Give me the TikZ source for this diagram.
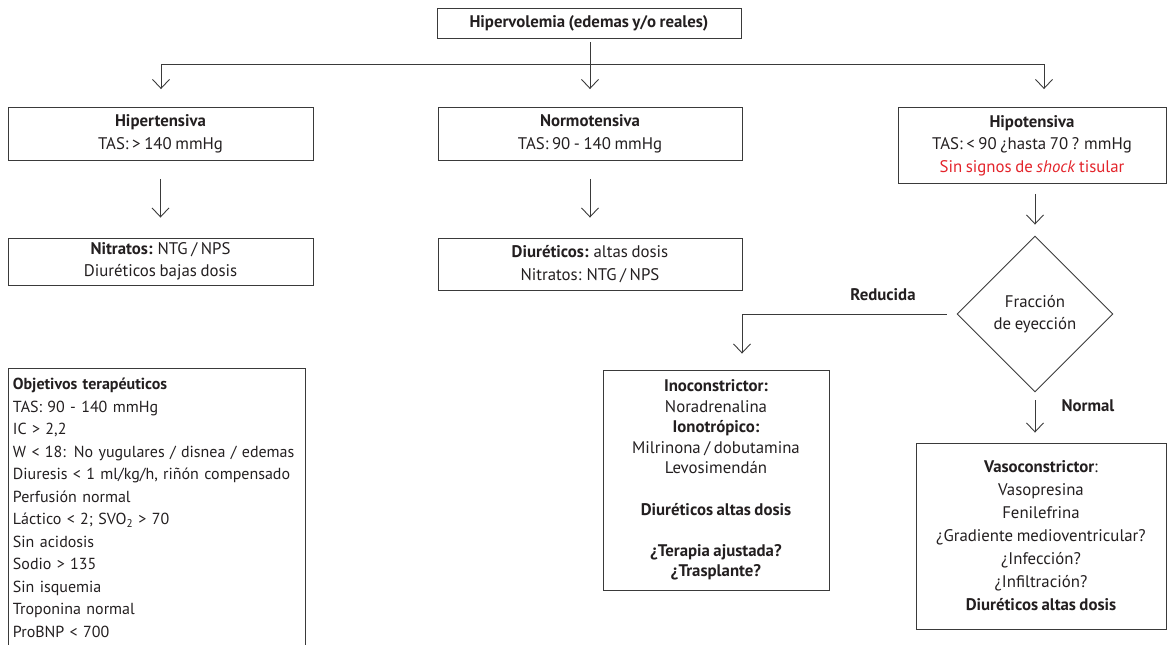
\documentclass[tikz,border=0pt]{standalone}
\usepackage{fontspec}
\setmainfont{PT Sans}[WordSpace=0.8]
\usetikzlibrary{shapes.geometric,arrows.meta}
\definecolor{ink}{HTML}{231F20}
\definecolor{linec}{HTML}{3A3A3A}
\definecolor{redt}{HTML}{E3242B}
\begin{document}
\begin{tikzpicture}[x=1pt,y=-1pt,
  every node/.style={font=\fontsize{16.8}{22.5}\selectfont, text=ink},
  box/.style={draw=linec, line width=0.9pt, align=center, inner sep=0pt},
  arr/.style={draw=linec, line width=0.9pt, -{Straight Barb[length=9pt,width=17pt,line width=0.9pt]}},
  ln/.style={draw=linec, line width=0.9pt},
  lbl/.style={font=\fontsize{16.8}{22.5}\selectfont\bfseries}]
\useasboundingbox (0,0) rectangle (1168,645);
\clip (0,0) rectangle (1168,645);

\node[box, minimum width=304, minimum height=30] (top) at (589,23) {\textbf{Hipervolemia (edemas y/o reales)}};
\node[box, minimum width=305, minimum height=53] (hyper) at (160.5,134) {\textbf{Hipertensiva}\\TAS: > 140 mmHg};
\node[box, minimum width=304, minimum height=53] (normo) at (590,134) {\textbf{Normotensiva}\\TAS: 90 - 140 mmHg};
\node[box, minimum width=268, minimum height=76] (hipo) at (1032,145.5) {\textbf{Hipotensiva}\\TAS: < 90 ¿hasta 70 ? mmHg\\\textcolor{redt}{Sin signos de \textit{shock} tisular}};
\node[box, minimum width=305, minimum height=47] (nitr) at (160.5,261.5) {\textbf{Nitratos:} NTG / NPS\\Diuréticos bajas dosis};
\node[box, minimum width=304, minimum height=52] (diur) at (590,264) {\textbf{Diuréticos:} altas dosis\\Nitratos: NTG / NPS};
\node[draw=linec, line width=0.9pt, shape=diamond, aspect=1, minimum width=156, minimum height=156, inner sep=0pt, align=center] (fe) at (1035,314) {Fracción\\de eyección};
\node[box, minimum width=226, minimum height=220, font=\fontsize{16.8}{20.6}\selectfont] (ino) at (716,480) {\textbf{Inoconstrictor:}\\Noradrenalina\\\textbf{Ionotrópico:}\\Milrinona / dobutamina\\Levosimendán\\[20.6pt]\textbf{Diuréticos altas dosis}\\[20.6pt]\textbf{¿Terapia ajustada?}\\\textbf{¿Trasplante?}};
\node[box, minimum width=250, minimum height=186, font=\fontsize{16.8}{23}\selectfont] (vaso) at (1041,536) {\textbf{Vasoconstrictor}:\\Vasopresina\\Fenilefrina\\¿Gradiente medioventricular?\\¿Infección?\\¿Infiltración?\\\textbf{Diuréticos altas dosis}};
\node[draw=linec, line width=0.9pt, anchor=north west, minimum width=297, minimum height=279, text width=288, inner xsep=4.5pt, inner ysep=0pt, align=left, font=\fontsize{16}{22.5}\selectfont] (obj) at (8,368) {\textbf{Objetivos terapéuticos}\\TAS: 90 - 140 mmHg\\IC > 2,2\\W < 18: No yugulares / disnea / edemas\\Diuresis < 1 ml/kg/h, riñón compensado\\Perfusión normal\\Láctico < 2; SVO\textsubscript{2} > 70\\Sin acidosis\\Sodio > 135\\Sin isquemia\\Troponina normal\\ProBNP < 700};

% connectors
\coordinate (hl) at (161,64);
\coordinate (hm) at (590,64);
\coordinate (hr) at (1044,64);
\draw[ln, shorten <=4pt] (top.south -| hm) -- (hm);
\draw[ln] (hl) -- (hr);
\draw[arr, shorten >=18pt] (hl) -- (hl |- hyper.north);
\draw[arr, shorten >=18pt] (hm) -- (hm |- normo.north);
\draw[arr, shorten >=18pt] (hr) -- (hr |- hipo.north);
\draw[arr, shorten <=18pt, shorten >=20pt] (hyper.south) -- (nitr.north);
\draw[arr, shorten <=18pt, shorten >=20pt] (normo.south) -- (diur.north);
\draw[arr, shorten <=10pt, shorten >=11pt] (hipo.south -| fe.north) -- (fe.north);
\coordinate (rc) at (742,314);
\draw[arr, shorten <=10pt, shorten >=16pt] (fe.west) -- (rc) -- (rc |- ino.north);
\draw[arr, shorten <=8pt, shorten >=10pt] (fe.south) -- (fe.south |- vaso.north);
\node[lbl] (red) at (883,295) {Reducida};
\node[lbl] (nor) at (1088,406) {Normal};
\end{tikzpicture}
\end{document}
